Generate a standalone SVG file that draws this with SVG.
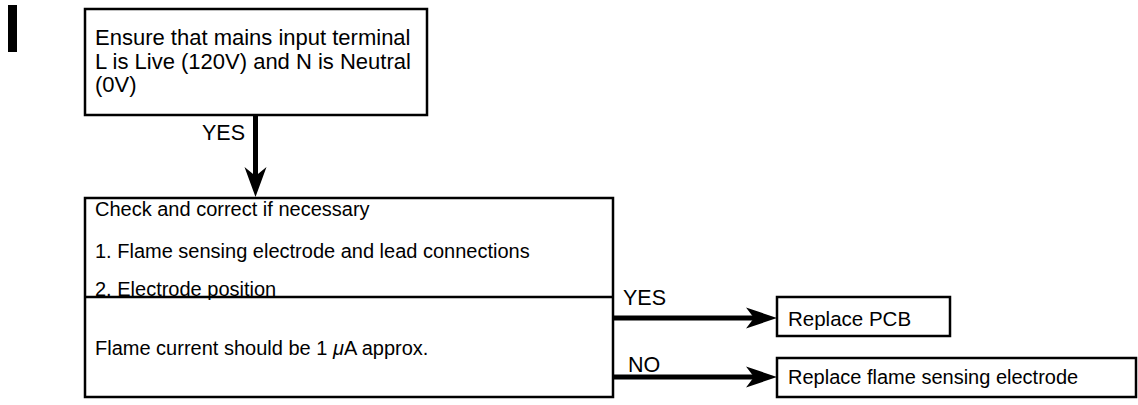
<svg xmlns="http://www.w3.org/2000/svg" width="1138" height="405" viewBox="0 0 1138 405">
<style>
.box{fill:#fff;stroke:#000;stroke-width:2.5}
.t{font-family:"Liberation Sans",Arial,sans-serif;font-size:20px;fill:#000}
.big{font-size:22px}
.lbl{font-size:21.5px}
.mid{font-size:20.5px}
.conn{stroke:#000;stroke-width:5;fill:none}
.head{fill:#000}
</style>
<rect x="8" y="5" width="9" height="47" fill="#000"/>
<g id="node-mains">
<rect class="box" x="85" y="9" width="342" height="106"/>
<text class="t big" x="95" y="45">Ensure that mains input terminal</text>
<text class="t big" x="95" y="68.5">L is Live (120V) and N is Neutral</text>
<text class="t big" x="95" y="92">(0V)</text>
</g>
<g id="node-check">
<rect class="box" x="85" y="198" width="528" height="199"/>
<line x1="85" y1="297" x2="613" y2="297" stroke="#000" stroke-width="2.5"/>
<text class="t" x="95" y="216">Check and correct if necessary</text>
<text class="t" x="95" y="258">1. Flame sensing electrode and lead connections</text>
<text class="t" x="95" y="296">2. Electrode position</text>
<text class="t" x="95" y="355">Flame current should be 1 <tspan font-style="italic">μ</tspan>A approx.</text>
</g>
<g id="node-pcb">
<rect class="box" x="777" y="297" width="173" height="39"/>
<text class="t mid" x="788" y="326">Replace PCB</text>
</g>
<g id="node-electrode">
<rect class="box" x="777" y="358" width="359" height="39"/>
<text class="t" x="788" y="384">Replace flame sensing electrode</text>
</g>
<g id="connectors">
<line class="conn" x1="255.5" y1="115" x2="255.5" y2="178"/>
<path class="head" d="M244.5,167 L255.5,197 L266.5,167 L255.5,176 Z"/>
<text class="t lbl" x="202" y="140">YES</text>
<line class="conn" x1="613" y1="318" x2="758" y2="318"/>
<path class="head" d="M746,307.5 L777,318 L746,328.5 L754,318 Z"/>
<text class="t lbl" x="623" y="305">YES</text>
<line class="conn" x1="613" y1="377" x2="758" y2="377"/>
<path class="head" d="M746,366.5 L777,377 L746,387.5 L754,377 Z"/>
<text class="t lbl" x="628" y="372">NO</text>
</g>
</svg>
